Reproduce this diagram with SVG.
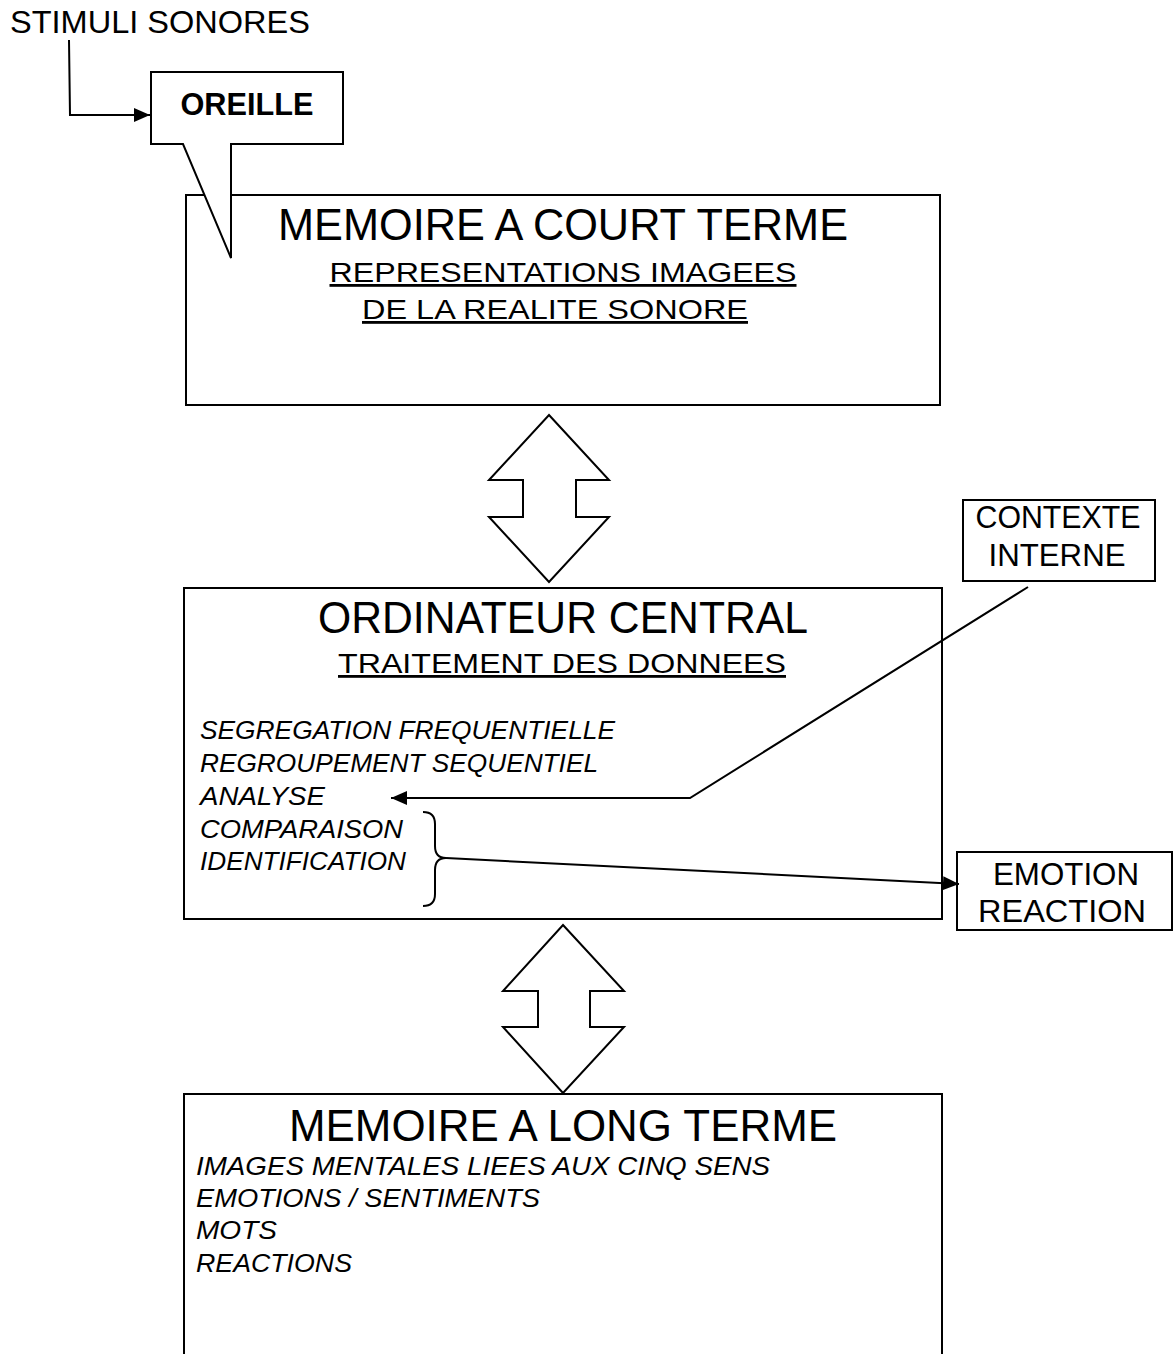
<svg xmlns="http://www.w3.org/2000/svg" width="1176" height="1354" viewBox="0 0 1176 1354">
<defs>
<style>
text{font-family:"Liberation Sans",Arial,sans-serif;fill:#000}
.box{fill:#fff;stroke:#000;stroke-width:2}
.title{font-size:44px;text-anchor:middle}
.sub{font-size:28px;text-anchor:middle;text-decoration:underline}
.it{font-size:25px;font-style:italic}
.lbl{font-size:32px;text-anchor:middle}
.con{fill:none;stroke:#000;stroke-width:2}
</style>
<marker id="ah" viewBox="0 0 16 14" refX="16" refY="7" markerWidth="16" markerHeight="14" markerUnits="userSpaceOnUse" orient="auto">
<path d="M0,0 L16,7 L0,14 Z" fill="#000"/>
</marker>
</defs>
<rect width="1176" height="1354" fill="#fff"/>

<g id="stimuli">
<text x="10" y="33" font-size="31" textLength="300" lengthAdjust="spacingAndGlyphs">STIMULI SONORES</text>
</g>

<g id="mct">
<rect class="box" x="186" y="195" width="754" height="210"/>
<text class="title" x="563" y="240" textLength="570" lengthAdjust="spacingAndGlyphs">MEMOIRE A COURT TERME</text>
<text class="sub" x="563" y="282" textLength="467" lengthAdjust="spacingAndGlyphs">REPRESENTATIONS IMAGEES</text>
<text class="sub" x="555" y="319" textLength="386" lengthAdjust="spacingAndGlyphs">DE LA REALITE SONORE</text>
</g>

<g id="oreille">
<path class="box" d="M151,72 H343 V144 H231 V258 L183,144 H151 Z"/>
<text class="lbl" x="247" y="115" font-size="31" textLength="133" lengthAdjust="spacingAndGlyphs" font-weight="bold">OREILLE</text>
</g>

<g id="arrow1">
<path class="box" d="M549,415 L609,480 H576 V517 H609 L549,582 L489,517 H523 V480 H489 Z"/>
</g>

<g id="ordinateur">
<rect class="box" x="184" y="588" width="758" height="331"/>
<text class="title" x="563" y="633" textLength="490" lengthAdjust="spacingAndGlyphs">ORDINATEUR CENTRAL</text>
<text class="sub" x="562" y="673" textLength="448" lengthAdjust="spacingAndGlyphs">TRAITEMENT DES DONNEES</text>
<text class="it" x="200" y="739" textLength="415" lengthAdjust="spacingAndGlyphs">SEGREGATION FREQUENTIELLE</text>
<text class="it" x="200" y="772" textLength="398" lengthAdjust="spacingAndGlyphs">REGROUPEMENT SEQUENTIEL</text>
<text class="it" x="200" y="805" textLength="125" lengthAdjust="spacingAndGlyphs">ANALYSE</text>
<text class="it" x="200" y="838" textLength="203" lengthAdjust="spacingAndGlyphs">COMPARAISON</text>
<text class="it" x="200" y="870" textLength="206" lengthAdjust="spacingAndGlyphs">IDENTIFICATION</text>
</g>

<g id="contexte">
<rect class="box" x="963" y="500" width="192" height="81"/>
<text class="lbl" x="1058" y="528" textLength="165" lengthAdjust="spacingAndGlyphs">CONTEXTE</text>
<text class="lbl" x="1057" y="566" textLength="137" lengthAdjust="spacingAndGlyphs">INTERNE</text>
</g>

<g id="emotion">
<rect class="box" x="957" y="852" width="215" height="78"/>
<text class="lbl" x="1066" y="885" font-size="33" textLength="146" lengthAdjust="spacingAndGlyphs">EMOTION</text>
<text class="lbl" x="1062" y="922" font-size="33" textLength="168" lengthAdjust="spacingAndGlyphs">REACTION</text>
</g>

<g id="arrow2">
<path class="box" d="M563,925 L624,991 H590 V1027 H624 L563,1093 L503,1027 H538 V991 H503 Z"/>
</g>

<g id="mlt">
<rect class="box" x="184" y="1094" width="758" height="270"/>
<text class="title" x="563" y="1141" textLength="548" lengthAdjust="spacingAndGlyphs">MEMOIRE A LONG TERME</text>
<text class="it" x="196" y="1175" textLength="574" lengthAdjust="spacingAndGlyphs">IMAGES MENTALES LIEES AUX CINQ SENS</text>
<text class="it" x="196" y="1207" textLength="344" lengthAdjust="spacingAndGlyphs">EMOTIONS / SENTIMENTS</text>
<text class="it" x="196" y="1239" textLength="81" lengthAdjust="spacingAndGlyphs">MOTS</text>
<text class="it" x="196" y="1272" textLength="156" lengthAdjust="spacingAndGlyphs">REACTIONS</text>
</g>

<g id="connectors">
<path class="con" d="M69,40 L70,115 H150" marker-end="url(#ah)"/>
<path class="con" d="M1028,587 L690,798 H391" marker-end="url(#ah)"/>
<path class="con" d="M423,812 Q435,812 435,824 V846 Q435,858 446,858 Q435,858 435,870 V894 Q435,906 423,906"/>
<path class="con" d="M446,858 L959,884" marker-end="url(#ah)"/>
</g>
</svg>
